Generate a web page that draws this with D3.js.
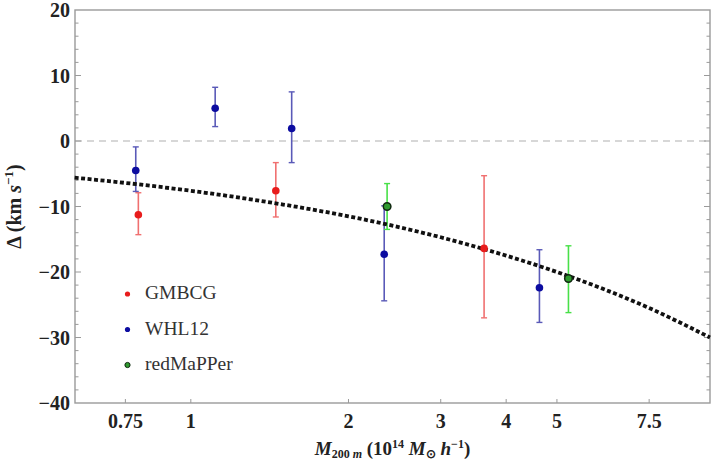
<!DOCTYPE html>
<html lang="en">
  <head>
    <meta charset="utf-8">
    <title>Delta vs M200m</title>
    <script type="text/javascript" src="https://cdn.jsdelivr.net/npm/d3@7"></script>
    <style>
      body { margin: 0; background: #fff; }
    </style>
  </head>
  <body>
    <script type="text/javascript">

      var w = 722;
      var h = 462;
      // plot frame (note: "top" is taken by window.top, so prefixed names)
      var padLeft = 75, padRight = 710, padTop = 10, padBottom = 403;

      // catalogues, in legend order
      var catalogs = ["GMBCG", "WHL12", "redMaPPer"];

      // GMBCG points with error bar ends (km/s)
      var gmbcgMass  = [0.794, 1.453, 3.63];
      var gmbcgDelta = [-11.25, -7.6, -16.4];
      var gmbcgLow   = [-14.3, -11.6, -27.0];
      var gmbcgHigh  = [-7.9, -3.3, -5.3];

      // WHL12
      var whlMass  = [0.785, 1.113, 1.558, 2.34, 4.63];
      var whlDelta = [-4.5, 5.0, 1.9, -17.3, -22.4];
      var whlLow   = [-7.7, 2.2, -3.3, -24.4, -27.7];
      var whlHigh  = [-0.9, 8.2, 7.5, -9.9, -16.6];

      // redMaPPer
      var rmMass  = [2.37, 5.26];
      var rmDelta = [-10.0, -21.0];
      var rmLow   = [-13.5, -26.2];
      var rmHigh  = [-6.5, -16.0];

      // dotted model curve
      var fitMass  = [0.6, 0.75, 1, 1.5, 2, 3, 4, 5, 7.5, 9.8];
      var fitDelta = [-5.6, -6.4, -7.6, -9.7, -11.5, -14.7, -17.5, -20.0, -25.5, -30.0];

      // tick labels
      var xTicks = [0.75, 1, 2, 3, 4, 5, 7.5];
      var xTickLabels = ["0.75", "1", "2", "3", "4", "5", "7.5"];
      var yTicks = [-40, -30, -20, -10, 0, 10, 20];
      var yTickLabels = ["\u221240", "\u221230", "\u221220", "\u221210", "0", "10", "20"];

      var xScale = d3.scaleLog()
                     .domain([0.601, 9.8])
                     .range([padLeft, padRight]);

      var yScale = d3.scaleLinear()
                     .domain([-40, 20])
                     .range([padBottom, padTop]);

      function pack(mass, delta, lo, hi) {
        var out = [];
        for (var i = 0; i < mass.length; i++) {
          out.push({ m: mass[i], d: delta[i], lo: lo[i], hi: hi[i] });
        }
        return out;
      }

      var series = [
        { name: catalogs[0], pts: pack(gmbcgMass, gmbcgDelta, gmbcgLow, gmbcgHigh),
          bar: "#f07070", dot: "#e81c1c", edge: "#e81c1c" },
        { name: catalogs[1], pts: pack(whlMass, whlDelta, whlLow, whlHigh),
          bar: "#5a5ab8", dot: "#0c0ca0", edge: "#0c0ca0" },
        { name: catalogs[2], pts: pack(rmMass, rmDelta, rmLow, rmHigh),
          bar: "#48e048", dot: "#2f9a2f", edge: "#102810" }
      ];

      var svg = d3.select("body")
                  .append("svg")
                  .attr("width", w)
                  .attr("height", h)
                  .style("display", "block");

      var serif = "'Liberation Serif', 'Times New Roman', serif";

      // zero line
      svg.append("line")
         .attr("x1", padLeft).attr("x2", padRight)
         .attr("y1", yScale(0)).attr("y2", yScale(0))
         .attr("stroke", "#b0b0b0")
         .attr("stroke-width", 1.2)
         .attr("stroke-dasharray", "7,5");

      // frame
      svg.append("rect")
         .attr("x", padLeft).attr("y", padTop)
         .attr("width", padRight - padLeft).attr("height", padBottom - padTop)
         .attr("fill", "none")
         .attr("stroke", "#9a9a9a")
         .attr("stroke-width", 1.4);

      // left + right ticks (inward), minor every 2
      var yMinor = d3.range(-38, 19, 2);
      yMinor.forEach(function(v) {
        var len = (v % 10 === 0) ? 6 : 3.5;
        svg.append("line")
           .attr("x1", padLeft).attr("x2", padLeft + len)
           .attr("y1", yScale(v)).attr("y2", yScale(v))
           .attr("stroke", "#9a9a9a").attr("stroke-width", 1);
        svg.append("line")
           .attr("x1", padRight).attr("x2", padRight - len)
           .attr("y1", yScale(v)).attr("y2", yScale(v))
           .attr("stroke", "#9a9a9a").attr("stroke-width", 1);
      });

      // bottom ticks
      svg.selectAll(".xtick")
         .data(xTicks)
         .enter()
         .append("line")
         .attr("class", "xtick")
         .attr("x1", function(d) { return xScale(d); })
         .attr("x2", function(d) { return xScale(d); })
         .attr("y1", padBottom)
         .attr("y2", padBottom - 4)
         .attr("stroke", "#9a9a9a")
         .attr("stroke-width", 1);

      // y tick labels
      svg.selectAll(".ylab")
         .data(yTicks)
         .enter()
         .append("text")
         .attr("class", "ylab")
         .attr("x", padLeft - 5)
         .attr("y", function(d) { return yScale(d) + 7; })
         .attr("text-anchor", "end")
         .attr("font-family", serif)
         .attr("font-weight", "bold")
         .attr("font-size", "20px")
         .attr("fill", "#222")
         .text(function(d, i) { return yTickLabels[i]; });

      // x tick labels
      svg.selectAll(".xlab")
         .data(xTicks)
         .enter()
         .append("text")
         .attr("class", "xlab")
         .attr("x", function(d) { return xScale(d); })
         .attr("y", 428)
         .attr("text-anchor", "middle")
         .attr("font-family", serif)
         .attr("font-weight", "bold")
         .attr("font-size", "20px")
         .attr("fill", "#222")
         .text(function(d, i) { return xTickLabels[i]; });

      // error bars
      var capW = 3;
      series.forEach(function(s) {
        var g = svg.append("g");
        s.pts.forEach(function(p) {
          var x = xScale(p.m);
          g.append("line")
           .attr("x1", x).attr("x2", x)
           .attr("y1", yScale(p.lo)).attr("y2", yScale(p.hi))
           .attr("stroke", s.bar).attr("stroke-width", 1.6);
          [p.lo, p.hi].forEach(function(v) {
            g.append("line")
             .attr("x1", x - capW).attr("x2", x + capW)
             .attr("y1", yScale(v)).attr("y2", yScale(v))
             .attr("stroke", s.bar).attr("stroke-width", 1.4);
          });
        });
      });

      // dotted model curve
      var fitData = fitMass.map(function(m, i) { return { m: m, d: fitDelta[i] }; });
      var line = d3.line()
                   .x(function(d) { return xScale(d.m); })
                   .y(function(d) { return yScale(d.d); })
                   .curve(d3.curveMonotoneX);
      svg.append("path")
         .datum(fitData)
         .attr("d", line)
         .attr("fill", "none")
         .attr("stroke", "#111")
         .attr("stroke-width", 3.8)
         .attr("stroke-dasharray", "4,2.5");

      // points
      series.forEach(function(s) {
        svg.selectAll(null)
           .data(s.pts)
           .enter()
           .append("circle")
           .attr("cx", function(d) { return xScale(d.m); })
           .attr("cy", function(d) { return yScale(d.d); })
           .attr("r", 3.8)
           .attr("fill", s.dot)
           .attr("stroke", s.edge)
           .attr("stroke-width", s.edge === s.dot ? 0 : 1.5);
      });

      // legend
      series.forEach(function(s, i) {
        var ly = 299 + i * 35.5;
        svg.append("circle")
           .attr("cx", 127.5)
           .attr("cy", ly - 5)
           .attr("r", 2.6)
           .attr("fill", s.dot)
           .attr("stroke", s.edge)
           .attr("stroke-width", s.edge === s.dot ? 0 : 1);
        svg.append("text")
           .attr("x", 145)
           .attr("y", ly)
           .attr("font-family", serif)
           .attr("font-size", "19.5px")
           .attr("fill", "#333")
           .text(s.name);
      });

      // y axis title
      var yt = svg.append("text")
                  .attr("transform", "translate(21," + ((padTop + padBottom) / 2) + ") rotate(-90)")
                  .attr("text-anchor", "middle")
                  .attr("font-family", serif)
                  .attr("font-weight", "bold")
                  .attr("font-size", "20px")
                  .attr("fill", "#222");
      yt.append("tspan").text("\u0394 (km ");
      yt.append("tspan").attr("font-style", "italic").text("s");
      yt.append("tspan").attr("font-size", "13px").attr("dy", -8).text("\u22121");
      yt.append("tspan").attr("dy", 8).text(")");

      // x axis title, right at the bottom edge
      var xt = svg.append("text")
                  .attr("x", (padLeft + padRight) / 2)
                  .attr("y", 455)
                  .attr("text-anchor", "middle")
                  .attr("font-family", serif)
                  .attr("font-weight", "bold")
                  .attr("font-size", "19px")
                  .attr("fill", "#222");
      xt.append("tspan").attr("font-style", "italic").text("M");
      xt.append("tspan").attr("font-size", "12px").attr("dy", 3).text("200 ");
      xt.append("tspan").attr("font-size", "12px").attr("font-style", "italic").text("m");
      xt.append("tspan").attr("dy", -3).text(" (10");
      xt.append("tspan").attr("font-size", "12px").attr("dy", -7).text("14");
      xt.append("tspan").attr("dy", 7).text(" ");
      xt.append("tspan").attr("font-style", "italic").text("M");
      xt.append("tspan").attr("font-size", "12px").attr("dy", 3).text("\u2299");
      xt.append("tspan").attr("dy", -3).text(" ");
      xt.append("tspan").attr("font-style", "italic").text("h");
      xt.append("tspan").attr("font-size", "12px").attr("dy", -7).text("\u22121");
      xt.append("tspan").attr("dy", 7).text(")");

    </script>
  </body>
</html>
